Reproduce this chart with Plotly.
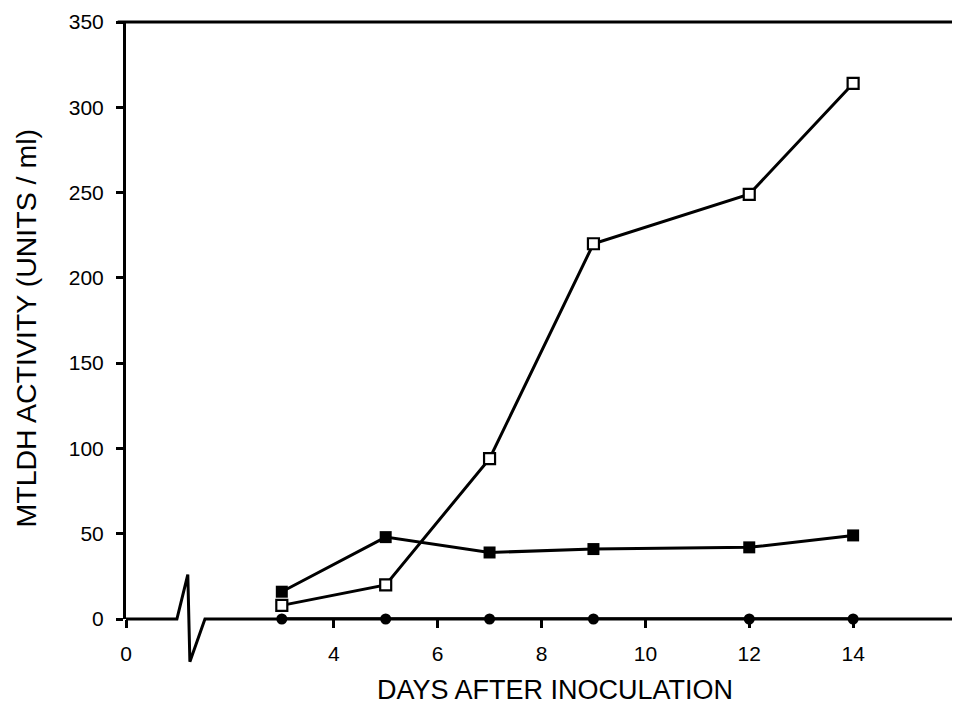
import plotly.graph_objects as go

# Data
days = [3, 5, 7, 9, 12, 14]
open_squares = [8, 20, 94, 220, 249, 314]
filled_squares = [16, 48, 39, 41, 42, 49]
filled_dots = [0, 0, 0, 0, 0, 0]

x_ticks = [0, 4, 6, 8, 10, 12, 14]
y_ticks = [0, 50, 100, 150, 200, 250, 300, 350]

X_RANGE = [0, 16]
Y_RANGE = [0, 350]

# axis-break decoration along the x axis (data units)
break_x = [0, 0.98, 1.19, 1.23, 1.52, 16]
break_y = [0, 0, 26, -25, 0, 0]

FONT = "Liberation Sans, Arial, sans-serif"

fig = go.Figure()

fig.add_trace(go.Scatter(
    x=days, y=filled_dots, mode="lines+markers",
    line=dict(color="black", width=3.5),
    marker=dict(symbol="circle", size=11, color="black"),
    cliponaxis=False, showlegend=False))
fig.add_trace(go.Scatter(
    x=days, y=filled_squares, mode="lines+markers",
    line=dict(color="black", width=3),
    marker=dict(symbol="square", size=12, color="black"),
    cliponaxis=False, showlegend=False))
fig.add_trace(go.Scatter(
    x=days, y=open_squares, mode="lines+markers",
    line=dict(color="black", width=3),
    marker=dict(symbol="square", size=11, color="white",
                line=dict(color="black", width=2.2)),
    cliponaxis=False, showlegend=False))

# axis line with break, drawn in paper coords so it is not clipped
def px(v):
    return (v - X_RANGE[0]) / (X_RANGE[1] - X_RANGE[0])

def py(v):
    return (v - Y_RANGE[0]) / (Y_RANGE[1] - Y_RANGE[0])

path = "M " + " L ".join(f"{px(a):.5f},{py(b):.5f}" for a, b in zip(break_x, break_y))
fig.add_shape(type="path", path=path, xref="paper", yref="paper",
              line=dict(color="black", width=3), layer="above")
# top and right frame
fig.add_shape(type="line", xref="paper", yref="paper", x0=-0.01, x1=1, y0=1, y1=1,
              line=dict(color="black", width=3))
fig.add_shape(type="line", xref="paper", yref="paper", x0=1, x1=1, y0=0, y1=1,
              line=dict(color="black", width=2))

fig.update_xaxes(range=X_RANGE, tickvals=x_ticks, ticktext=[str(t) for t in x_ticks],
                 showline=False, showgrid=False, zeroline=False,
                 ticks="outside", ticklen=8, tickwidth=2.5, tickcolor="black",
                 ticklabelstandoff=8,
                 tickfont=dict(family=FONT, size=21, color="black"))
fig.update_yaxes(range=Y_RANGE, tickvals=y_ticks, showline=True, linecolor="black", linewidth=3,
                 showgrid=False, zeroline=False,
                 ticks="outside", ticklen=7, tickwidth=2.5, tickcolor="black",
                 ticklabelstandoff=8,
                 tickfont=dict(family=FONT, size=21, color="black"))

fig.add_annotation(text="DAYS AFTER INOCULATION", xref="paper", yref="paper",
                   x=0.5, y=0, xanchor="center", yanchor="middle",
                   xshift=13, yshift=-71, showarrow=False,
                   font=dict(family=FONT, size=27, color="black"))
fig.add_annotation(text="MTLDH ACTIVITY (UNITS / ml)", xref="paper", yref="paper",
                   x=0, y=0.5, xanchor="center", yanchor="middle", textangle=-90,
                   xshift=-101, yshift=-8, showarrow=False,
                   font=dict(family=FONT, size=28.5, color="black"))

# page body has an 8px margin, so the figure is sized to fill the 960x705 window
fig.update_layout(width=952, height=697,
                  margin=dict(l=118, r=3, t=14, b=86),
                  plot_bgcolor="white", paper_bgcolor="white")

fig.write_html("out.html")
